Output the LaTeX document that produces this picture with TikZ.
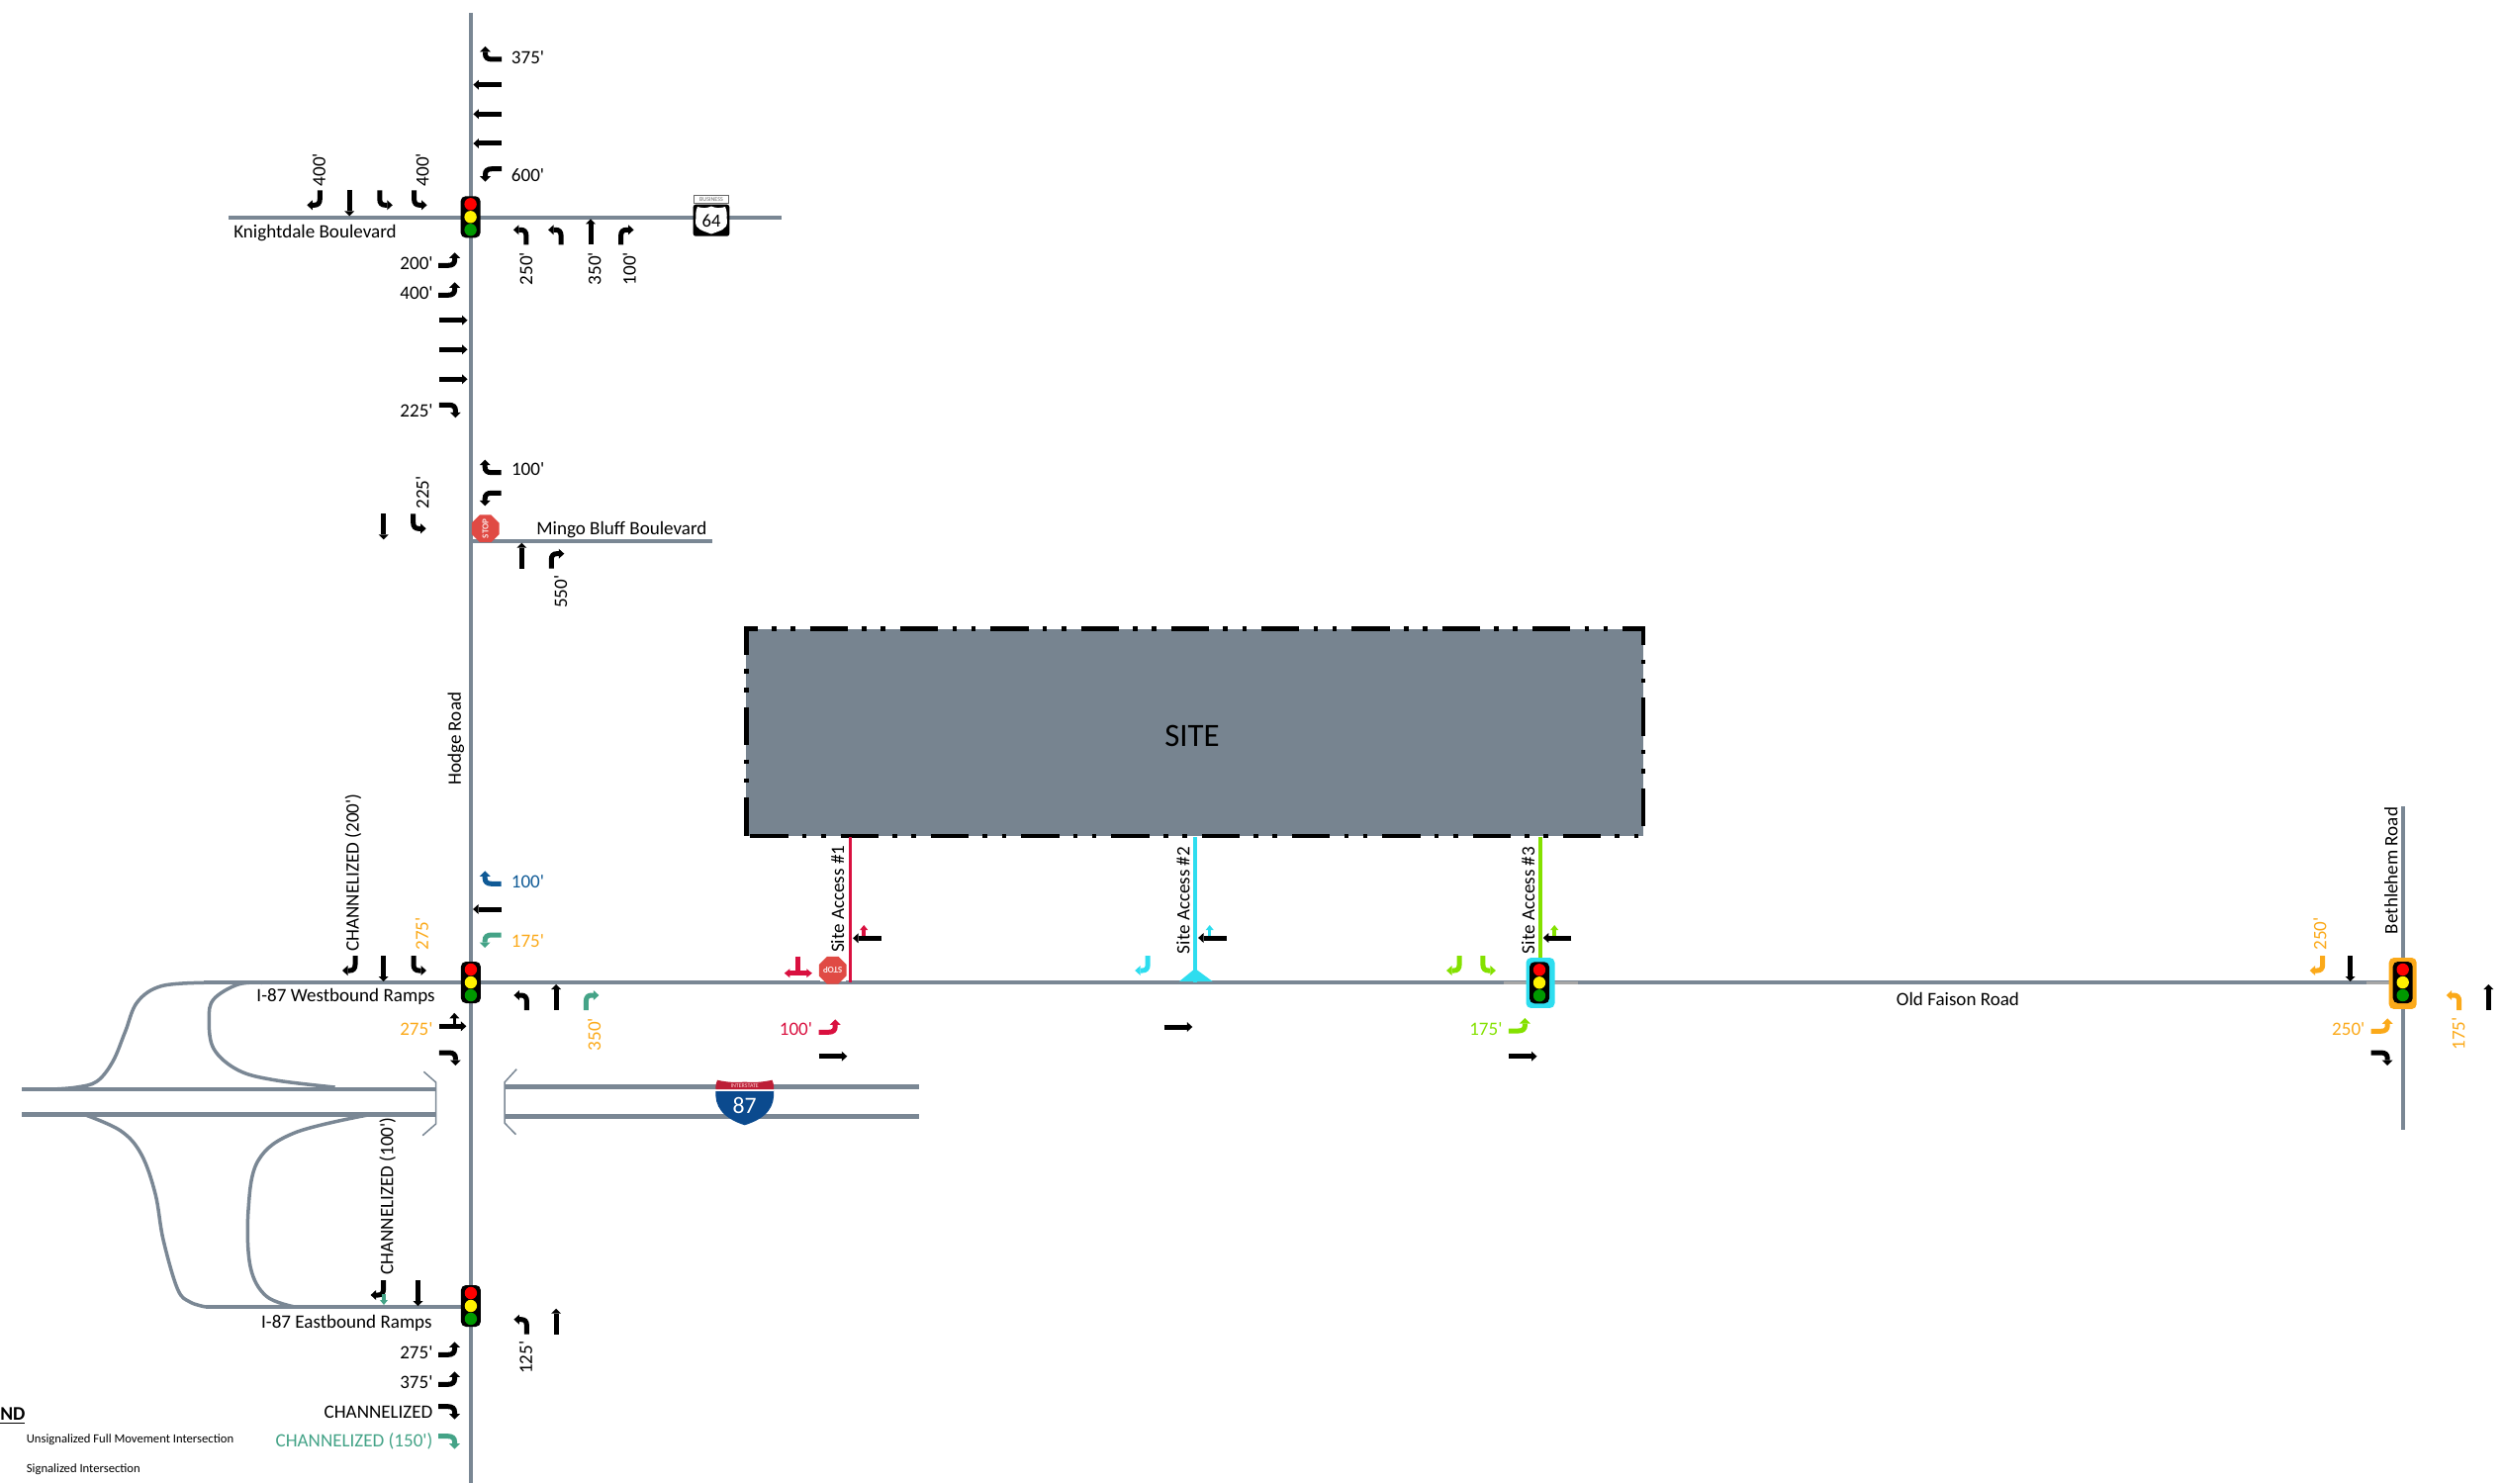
\documentclass[tikz,border=0pt]{standalone}
\usepackage{fontspec}
\setmainfont{Carlito}[Ligatures=TeXOff]
\usetikzlibrary{shapes.geometric}
\definecolor{roadc}{HTML}{7A8794}
\definecolor{sitec}{HTML}{778490}
\definecolor{org}{HTML}{FBA919}
\definecolor{teal}{HTML}{44A387}
\definecolor{blu}{HTML}{0F5A96}
\definecolor{crim}{HTML}{D9103F}
\definecolor{cya}{HTML}{2EDDEF}
\definecolor{lim}{HTML}{84E100}
\definecolor{stopc}{HTML}{E04A44}
\definecolor{ishb}{HTML}{0B4A8E}
\definecolor{ishr}{HTML}{BC1E36}
\newcounter{nn}
\newcommand\nid{n\arabic{nn}}
% arrows: tail at origin, travelling up the page in local frame
\def\arrT{\draw[stemln] (0,0)--(0,-21); \fill (-5,-21)--(0,-26)--(5,-21)--cycle;}
\def\arrR{\draw[stemln] (0,0)--(0,-9) .. controls (0,-13) and (2,-15) .. (5.5,-15)--(7.5,-15);
  \fill (7.5,-20)--(13,-15)--(7.5,-10)--cycle;}
\def\arrL{\begin{scope}[xscale=-1]\arrR\end{scope}}
\def\arrLR{\draw[stemln] (0,0)--(0,-15.5); \draw[stemln] (-9,-17)--(9,-17);
  \fill (-8.5,-21.5)--(-14,-17)--(-8.5,-12.5)--cycle; \fill (8.5,-21.5)--(14,-17)--(8.5,-12.5)--cycle;}
\def\arrTL{\draw[stemln] (0,0)--(0,-20); \fill (-5,-20)--(0,-25)--(5,-20)--cycle;
  \draw[line width=0.07cm] (0,-14)--(-8,-14); \fill (-8,-18.5)--(-13.5,-14)--(-8,-9.5)--cycle;}
\def\arrS{\draw[line width=0.07cm] (0,0)--(0,-6); \fill (-4,-6)--(0,-11)--(4,-6)--cycle;}
\newcommand\arr[5][black]{\begin{scope}[shift={(#4,#5)},rotate=#3,yscale={1+0.1*abs(sin(#3))},color=#1,fill=#1]\csname arr#2\endcsname\end{scope}}
% labels
\newcommand\lab[6][black]{\stepcounter{nn}\node[txt,text=#1,anchor=#4,rotate=#5,yshift=-0.02cm] (\nid) at (#2,#3) {#6};}
% signals
\newcommand\sig[2]{\stepcounter{nn}\node[sigbox] (\nid) at (#1,#2) {};
  \fill[red] (#1,#2-13) circle (6.2);
  \fill[yellow] (#1,#2) circle (6.2);
  \fill[green!60!black] (#1,#2+13) circle (6.2);}
\newcommand\stopsign[4]{\stepcounter{nn}\node[regular polygon,regular polygon sides=8,fill=stopc,minimum size=0.47cm,inner sep=0,text=white!85!stopc,font=\fontsize{5.2}{6}\selectfont\bfseries,rotate=#3] (\nid) at (#1,#2) {#4};}
\tikzset{
  x=0.02cm,y=-0.02cm,
  road/.style={draw=roadc,line width=0.08cm},
  fwy/.style={draw=roadc,line width=0.09cm},
  ramp/.style={draw=roadc,line width=0.07cm,line join=round},
  stemln/.style={line width=0.1cm},
  txt/.style={inner sep=0pt,font=\fontsize{10.85}{13}\selectfont},
  sigbox/.style={draw=none,fill=black,rounded corners=0.1cm,minimum width=0.4cm,minimum height=0.84cm,inner sep=0},
  sitedash/.style={line width=0.092cm,black,dash pattern=on 0.768cm off 0.284cm on 0.092cm off 0.29cm on 0.092cm off 0.3cm},
}
\begin{document}
\begin{tikzpicture}
\useasboundingbox (0,0) rectangle (2530,1500);
% ---- roads
\draw[road] (475.6,13)--(475.6,1499);
\draw[road] (231,219.7)--(790,219.7);
\draw[road] (476,546.7)--(720,546.7);
\draw[road] (206,993.3)--(2420,993.3);
\draw[road] (208,1321)--(470,1321);
\draw[road] (2428.7,815)--(2428.7,1142);
\draw[draw=gray!70,line width=0.07cm] (1520,993.3)--(1595,993.3);
\draw[draw=gray!70,line width=0.07cm] (2392,993.3)--(2420,993.3);
% freeway
\draw[fwy] (22,1101)--(440.6,1101);
\draw[fwy] (22,1126.3)--(440.6,1126.3);
\draw[fwy] (510,1098.5)--(929,1098.5);
\draw[fwy] (510,1128.3)--(929,1128.3);
\draw[roadc,line width=0.03cm] (428.4,1083.3)--(440.6,1094)--(440.6,1136)--(427.2,1147.7);
\draw[roadc,line width=0.03cm] (522.2,1080.7)--(510,1094)--(510,1135)--(521.4,1146.7);
% ramps
\draw[ramp] plot[smooth,tension=.6] coordinates {(206,993.3)(163,996.7)(138.7,1013)(126.5,1043)(114,1073)(98,1093)(77.5,1099)(53,1101)};
\draw[ramp] plot[smooth,tension=.6] coordinates {(265,993.3)(240.7,995)(216,1010)(211.3,1030)(216,1060)(240.7,1081.7)(277.4,1091.7)(338.6,1099)};
\draw[ramp] plot[smooth,tension=.6] coordinates {(85.7,1126.7)(122,1143)(142.8,1166.7)(157,1206.7)(165,1253)(179.5,1303)(192,1316)(208,1321)};
\draw[ramp] plot[smooth,tension=.6] coordinates {(373.3,1126.7)(297.8,1145)(261,1173)(251,1223)(253,1280)(269,1310)(298,1321)};
% ---- site
\fill[sitec] (754.3,635.7) rectangle (1661,845);
\draw[sitedash,dash phase=0.492cm] (752,635.4)--(1663.3,635.4);
\draw[sitedash,dash phase=0.192cm] (754.3,633.3)--(754.3,845);
\draw[sitedash] (758.3,844.8)--(1658,844.8);
\draw[sitedash,dash phase=0.386cm] (1661,633.3)--(1661,845);
\node[font=\fontsize{18.7}{21}\selectfont,inner sep=0] (site) at (1205,743.5) {SITE};
% site access lines
\coordinate (a1t) at (859.7,846); \coordinate (a1b) at (859.7,993);
\coordinate (a2t) at (1208,846); \coordinate (a2b) at (1208,993);
\coordinate (a3t) at (1557,846); \coordinate (a3b) at (1557,975);
\draw[crim,line width=0.065cm] (a1t)--(a1b);
\draw[cya,line width=0.065cm] (a2t)--(a2b);
\draw[lim,line width=0.065cm] (a3t)--(a3b);
\fill[cya] (1192,992)--(1208,979)--(1225.6,992)--cycle;
% ---- Knightdale intersection
\arr{R}{90}{507}{60}
\arr{T}{90}{507}{85.7}\arr{T}{90}{507}{115.3}\arr{T}{90}{507}{145}
\arr{L}{90}{507}{170.7}
\lab{516.6}{57.3}{west}{0}{375'}
\lab{516.6}{176}{west}{0}{600'}
\arr{R}{180}{323.3}{192.3}\arr{T}{180}{353.2}{192.3}\arr{L}{180}{383.8}{192.3}\arr{L}{180}{418.6}{192.3}
\lab{321.4}{171.5}{center}{90}{400'}
\lab{425.9}{171.5}{center}{90}{400'}
\arr{L}{0}{531.9}{247.3}\arr{L}{0}{567.1}{247.3}\arr{T}{0}{597}{247.3}\arr{R}{0}{627.6}{247.3}
\lab{530.8}{271.7}{center}{90}{250'}
\lab{600}{271.7}{center}{90}{350'}
\lab{635.2}{271.7}{center}{90}{100'}
\arr{L}{-90}{443.1}{268.3}\arr{L}{-90}{443.1}{298.3}
\arr{T}{-90}{443.9}{323.7}\arr{T}{-90}{443.9}{353.3}\arr{T}{-90}{443.9}{383.3}
\arr{R}{-90}{443.9}{409.3}
\lab{438}{265}{east}{0}{200'}
\lab{438}{295}{east}{0}{400'}
\lab{438}{414}{east}{0}{225'}
\lab{236}{235}{west}{0}{Knightdale Boulevard}
\sig{475.6}{219.3}
% US 64 shield
\node[draw=black!60,fill=white,line width=0.02cm,minimum width=0.71cm,minimum height=0.17cm,inner sep=0,text=black!60,font=\fontsize{3.4}{4}\selectfont] (busplate) at (719,201.5) {BUSINESS};
\fill[black,rounded corners=0.05cm] (700.7,206.7) rectangle (737.3,238.7);
\fill[white] (705,209) .. controls (712,211) and (715,210) .. (719,208.5) .. controls (723,210) and (726,211) .. (733,209)
  .. controls (736,216) and (734,220) .. (735,224) .. controls (735,232) and (728,233) .. (719,236.5) .. controls (710,233) and (703,232) .. (703,224) .. controls (704,220) and (702,216) .. (705,209) -- cycle;
\node[inner sep=0,font=\fontsize{10.6}{12}\selectfont] (us64) at (719,223) {64};
% ---- Mingo Bluff
\arr{R}{90}{506.7}{477.7}\arr{L}{90}{506.7}{498.3}
\lab{516.7}{473}{west}{0}{100'}
\arr{T}{180}{387.7}{519.3}\arr{L}{180}{417.7}{519.3}
\lab{426}{498}{center}{90}{225'}
\stopsign{490.7}{534.3}{90}{STOP}
\lab{542}{535}{west}{0}{Mingo Bluff Boulevard}
\arr{T}{0}{527.3}{574.7}\arr{R}{0}{557.3}{574.7}
\lab{565.7}{598.3}{center}{90}{550'}
\lab{460}{746.7}{center}{90}{Hodge Road}
% ---- I-87 Westbound ramps
\arr[blu]{R}{90}{506.7}{893.3}
\arr{T}{90}{506.7}{919}
\arr[teal]{L}{90}{506.7}{945}
\lab[blu]{516.5}{890}{west}{0}{100'}
\lab[org]{516.5}{950}{west}{0}{175'}
\arr{R}{180}{359}{966}\arr{T}{180}{387.6}{966}\arr{L}{180}{418}{966}
\lab{356}{882}{center}{90}{CHANNELIZED (200')}
\lab[org]{425.5}{944}{center}{90}{275'}
\arr{L}{0}{532.4}{1021}\arr{T}{0}{562.2}{1021}\arr[teal]{R}{0}{592.4}{1021}
\lab[org]{599.8}{1045.7}{center}{90}{350'}
\arr{TL}{-90}{443.9}{1037.3}
\arr{R}{-90}{443.9}{1064}
\lab[org]{437.8}{1039}{east}{0}{275'}
\lab{440}{1006.7}{east}{0}{I-87 Westbound Ramps}
\sig{475.9}{993}
% ---- I-87 Eastbound ramps
\arr{R}{180}{387.6}{1294}\arr{T}{180}{422.5}{1294}
\arr[teal]{S}{180}{388}{1308}
\lab{390.7}{1209}{center}{90}{CHANNELIZED (100')}
\lab{437}{1336}{east}{0}{I-87 Eastbound Ramps}
\sig{475.9}{1320}
\arr{L}{0}{532.4}{1348.7}\arr{T}{0}{562.2}{1348.7}
\lab{530.4}{1372.3}{center}{90}{125'}
\arr{L}{-90}{443}{1369.3}\arr{L}{-90}{443}{1399.3}\arr{R}{-90}{443}{1421.7}
\arr[teal]{R}{-90}{443}{1451.7}
\lab{437.8}{1366}{east}{0}{275'}
\lab{437.8}{1396}{east}{0}{375'}
\lab{437.8}{1426}{east}{0}{CHANNELIZED}
\lab[teal]{437.8}{1456}{east}{0}{CHANNELIZED (150')}
% legend
\node[txt,anchor=west,font=\fontsize{11.1}{13}\selectfont\bfseries] (legnd) at (0,1431) {\underline{ND}};
\node[txt,anchor=west,font=\fontsize{7.2}{8}\selectfont] (leg1) at (26.5,1455.5) {Unsignalized Full Movement Intersection};
\node[txt,anchor=west,font=\fontsize{7.2}{8}\selectfont] (leg2) at (26.5,1485.5) {Signalized Intersection};
% I-87 shield
\fill[ishb] (723.5,1102) -- (782,1102) .. controls (783.5,1118) and (776,1130) .. (752.7,1137.3) .. controls (730,1130) and (722,1118) .. (723.5,1102) -- cycle;
\fill[white] (723.3,1100.5) rectangle (782.2,1103);
\fill[ishr] (723.5,1101) .. controls (723.2,1097) and (724,1094) .. (725,1091.7) .. controls (735,1094) and (745,1094.5) .. (752.7,1093.5) .. controls (760,1094.5) and (770,1094) .. (780.5,1091.7) .. controls (781.5,1094) and (782.5,1097) .. (782,1101) -- cycle;
\node[inner sep=0,text=white!85!red,font=\fontsize{3.4}{4}\selectfont] (ihdr) at (752.7,1097.5) {INTERSTATE};
\node[inner sep=0,text=white,font=\fontsize{13.5}{16}\selectfont] (i87) at (752.7,1117) {87};
% ---- Site Access 1
\arr[crim]{LR}{180}{806.8}{966.7}
\fill[white] (829,967) rectangle (855,992);
\stopsign{841.7}{980.7}{180}{STOP}
\lab{845.6}{908.7}{center}{90}{Site Access \#1}
\arr[crim]{S}{0}{873.2}{946}
\arr{T}{90}{890.7}{948.3}
\arr[crim]{L}{-90}{827.7}{1043.3}
\lab[crim]{821.4}{1039.3}{east}{0}{100'}
\arr{T}{-90}{827.7}{1067.7}
% ---- Site Access 2
\lab{1195}{910}{center}{90}{Site Access \#2}
\arr[cya]{R}{180}{1160.2}{966}
\arr[cya]{S}{0}{1222.7}{946}
\arr{T}{90}{1239.7}{948}
\arr{T}{-90}{1176.7}{1038}
% ---- Site Access 3
\lab{1543.6}{910}{center}{90}{Site Access \#3}
\arr[lim]{S}{0}{1571.2}{946}
\arr{T}{90}{1588.4}{948}
\arr[lim]{R}{180}{1475.1}{966}\arr[lim]{L}{180}{1498.9}{966}
\node[fill=cya,rounded corners=0.1cm,minimum width=0.58cm,minimum height=1.02cm,inner sep=0] (sa3bg) at (1557,993.5) {};
\sig{1556}{993.3}
\arr[lim]{L}{-90}{1524.9}{1042}
\lab[lim]{1518.8}{1039.3}{east}{0}{175'}
\arr{T}{-90}{1524.9}{1067.7}
% ---- Old Faison / Bethlehem
\lab{1979}{1009}{center}{0}{Old Faison Road}
\lab{2415.7}{880}{center}{90}{Bethlehem Road}
\arr[org]{R}{180}{2347.7}{966}\arr{T}{180}{2375.7}{966}
\lab[org]{2344}{944}{center}{90}{250'}
\node[fill=org,rounded corners=0.1cm,minimum width=0.56cm,minimum height=1.04cm,inner sep=0] (befbg) at (2428.7,994) {};
\sig{2428.7}{993}
\arr[org]{L}{-90}{2396.7}{1042.3}
\lab[org]{2390.7}{1039}{east}{0}{250'}
\arr{R}{-90}{2396.7}{1064}
\arr[org]{L}{0}{2485.7}{1021}\arr{T}{0}{2515.3}{1021}
\lab[org]{2484}{1045}{center}{90}{175'}
\end{tikzpicture}
\end{document}
